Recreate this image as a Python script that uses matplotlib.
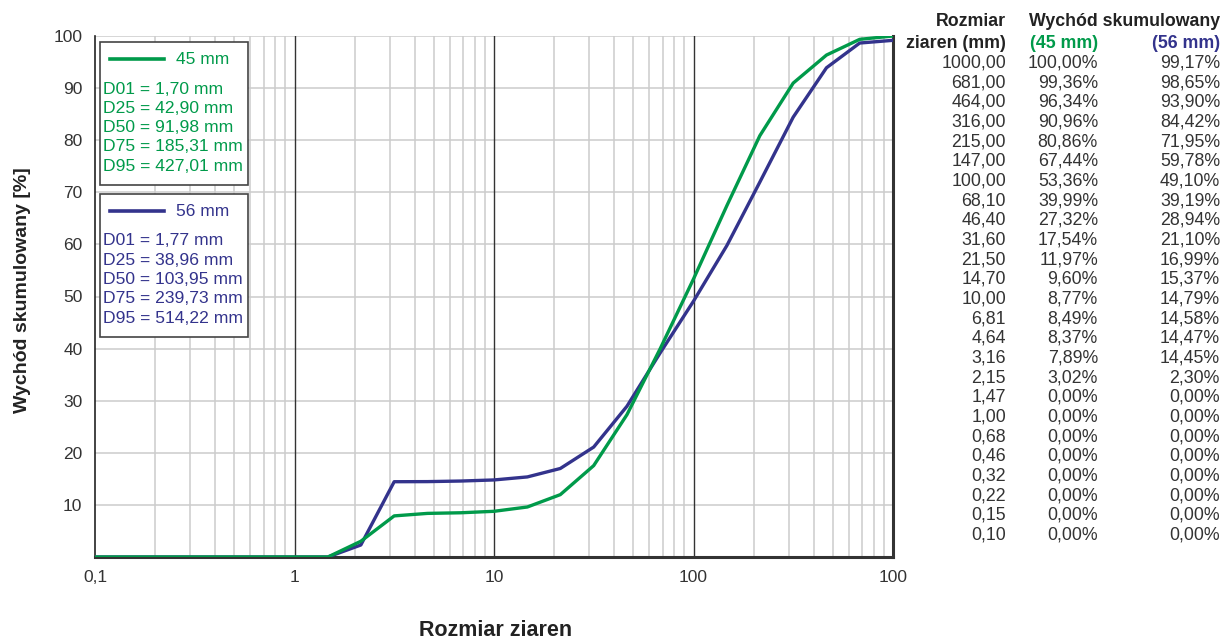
import numpy as np
import matplotlib.pyplot as plt
from matplotlib.ticker import FixedLocator, NullFormatter

plt.rcParams['font.family'] = ['Liberation Sans', 'DejaVu Sans']

# Sieve sizes (mm) and cumulative passing (%)
sizes = [1000.00, 681.00, 464.00, 316.00, 215.00, 147.00, 100.00, 68.10, 46.40,
         31.60, 21.50, 14.70, 10.00, 6.81, 4.64, 3.16, 2.15, 1.47, 1.00, 0.68,
         0.46, 0.32, 0.22, 0.15, 0.10]
pass_45 = [100.00, 99.36, 96.34, 90.96, 80.86, 67.44, 53.36, 39.99, 27.32,
           17.54, 11.97, 9.60, 8.77, 8.49, 8.37, 7.89, 3.02, 0.00, 0.00, 0.00,
           0.00, 0.00, 0.00, 0.00, 0.00]
pass_56 = [99.17, 98.65, 93.90, 84.42, 71.95, 59.78, 49.10, 39.19, 28.94,
           21.10, 16.99, 15.37, 14.79, 14.58, 14.47, 14.45, 2.30, 0.00, 0.00, 0.00,
           0.00, 0.00, 0.00, 0.00, 0.00]

d_labels = ['D01', 'D25', 'D50', 'D75', 'D95']
d_45 = [1.70, 42.90, 91.98, 185.31, 427.01]
d_56 = [1.77, 38.96, 103.95, 239.73, 514.22]

x_ticks = [0.1, 1, 10, 100, 1000]
x_ticklabels = ['0,1', '1', '10', '100', '100']
y_ticks = [10, 20, 30, 40, 50, 60, 70, 80, 90, 100]

GREEN = '#009a4a'
BLUE = '#33338c'
TEXT = '#222222'
GREY_TEXT = '#333333'


def pl(v, suffix=''):
    return ('%.2f' % v).replace('.', ',') + suffix


fig = plt.figure(figsize=(12.24, 6.39), dpi=100)
ax = fig.add_axes([95 / 1224, 1 - 557 / 639, (893 - 95) / 1224, (557 - 36) / 639])

ax.set_xscale('log')
ax.set_xlim(0.1, 1000)
ax.set_ylim(0, 100)

# grid: light minor lines, dark decade lines
minor = [m * 10.0 ** e for e in range(-1, 3) for m in range(2, 10)]
for xv in minor:
    ax.axvline(xv, color='#cccccc', lw=1.1, zorder=1)
for yv in y_ticks:
    ax.axhline(yv, color='#cccccc', lw=1.1, zorder=1)
for xv in [1, 10, 100]:
    ax.axvline(xv, color='#333333', lw=1.0, zorder=1.5)

ax.plot(sizes, pass_56, color=BLUE, lw=2.4, zorder=3, solid_joinstyle='round')
ax.plot(sizes, pass_45, color=GREEN, lw=2.4, zorder=4, solid_joinstyle='round')

ax.xaxis.set_major_locator(FixedLocator(x_ticks))
ax.xaxis.set_minor_locator(FixedLocator([]))
ax.xaxis.set_minor_formatter(NullFormatter())
ax.set_xticklabels(x_ticklabels)
ax.set_yticks(y_ticks)
ax.tick_params(axis='both', length=0, labelsize=12.5, colors=GREY_TEXT)
ax.tick_params(axis='x', pad=9)
ax.tick_params(axis='y', pad=9)

ax.spines['top'].set_visible(False)
ax.spines['left'].set_color('#222222')
ax.spines['left'].set_linewidth(1.2)
ax.spines['right'].set_color('#333333')
ax.spines['right'].set_linewidth(2.2)
ax.spines['bottom'].set_color('#333333')
ax.spines['bottom'].set_linewidth(2.2)
for sp in ax.spines.values():
    sp.set_zorder(2)

fig.text(496 / 1224, 1 - 630 / 639, 'Rozmiar ziaren', ha='center', va='center',
         fontsize=15.5, fontweight='bold', color=TEXT)
fig.text(23 / 1224, 1 - 290 / 639, 'Wychód skumulowany [%]', ha='center', va='center',
         rotation=90, fontsize=14, fontweight='bold', color=TEXT)


# legend boxes with characteristic diameters
def info_box(top_px, name, color, values):
    x0, x1 = 100 / 1224, 248 / 1224
    y0 = 1 - top_px / 639
    h = 143 / 639
    box = plt.Rectangle((x0, y0 - h), x1 - x0, h, transform=fig.transFigure,
                        facecolor='white', edgecolor='#444444', lw=1.2, zorder=5)
    fig.patches.append(box)
    ly = y0 - 17 / 639
    fig.add_artist(plt.Line2D([110 / 1224, 164 / 1224], [ly, ly], color=color, lw=2.6,
                              zorder=6))
    fig.text(176 / 1224, ly, name, color=color, fontsize=12.5, va='center', zorder=6)
    for i, (lab, v) in enumerate(zip(d_labels, values)):
        fig.text(103 / 1224, y0 - (47 + i * 19.3) / 639, '%s = %s mm' % (lab, pl(v)),
                 color=color, fontsize=12.6, va='center', zorder=6)


info_box(42, '45 mm', GREEN, d_45)
info_box(194, '56 mm', BLUE, d_56)

# data table on the right
c1, c2, c3 = 1006 / 1224, 1098 / 1224, 1220 / 1224
fs = 12.8
fig.text(c1, 1 - 21 / 639, 'Rozmiar', ha='right', va='center', fontsize=fs,
         fontweight='bold', color=TEXT)
fig.text(c1, 1 - 43 / 639, 'ziaren (mm)', ha='right', va='center', fontsize=fs,
         fontweight='bold', color=TEXT)
fig.text(c3, 1 - 21 / 639, 'Wychód skumulowany', ha='right', va='center', fontsize=fs,
         fontweight='bold', color=TEXT)
fig.text(c2, 1 - 43 / 639, '(45 mm)', ha='right', va='center', fontsize=fs,
         fontweight='bold', color=GREEN)
fig.text(c3, 1 - 43 / 639, '(56 mm)', ha='right', va='center', fontsize=fs,
         fontweight='bold', color=BLUE)
for i, (s, a, b) in enumerate(zip(sizes, pass_45, pass_56)):
    y = 1 - (63 + i * 19.67) / 639
    fig.text(c1, y, pl(s), ha='right', va='center', fontsize=fs, color=GREY_TEXT)
    fig.text(c2, y, pl(a, '%'), ha='right', va='center', fontsize=fs, color=GREY_TEXT)
    fig.text(c3, y, pl(b, '%'), ha='right', va='center', fontsize=fs, color=GREY_TEXT)

fig.savefig('out.png', dpi=100, facecolor='white')
